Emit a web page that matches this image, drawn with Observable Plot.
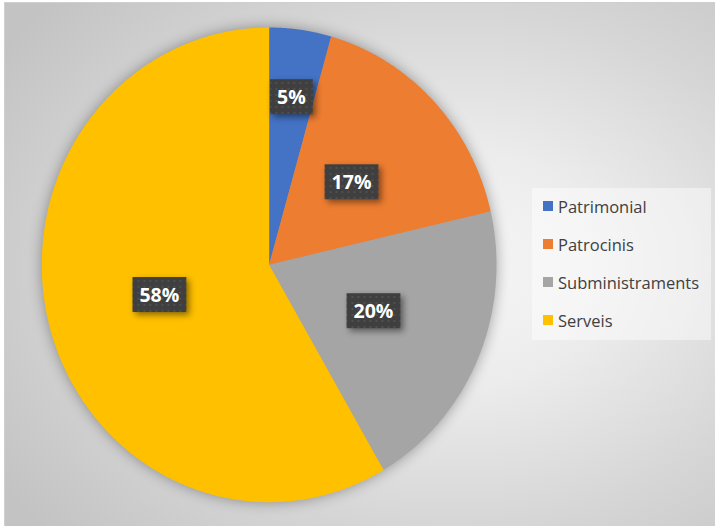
<!DOCTYPE html>
<html>
<head>
<meta charset="utf-8">
<script src="https://cdn.jsdelivr.net/npm/d3@7"></script>
<script src="https://cdn.jsdelivr.net/npm/@observablehq/plot@0.6"></script>
<style>
  html, body { margin: 0; padding: 0; background: #ffffff; }
  #wrap { position: relative; width: 715px; height: 526px; overflow: hidden; }
  #bg {
    position: absolute; left: 4px; top: 2px; width: 720px; height: 530px;
    border-left: 1px solid #cfcfcf; border-top: 1px solid #cfcfcf;
    background: radial-gradient(ellipse 75% 75% at 62% 50%, #f7f7f7 0%, #ececec 30%, #d6d6d6 65%, #c3c3c3 100%);
  }
  #chart { position: absolute; left: 0; top: 0; }
  #legend {
    position: absolute; left: 532px; top: 188px; width: 179px; height: 152px;
    background: rgba(255,255,255,0.45);
    font-family: "Open Sans", sans-serif; font-size: 16.5px; color: #404040;
  }
  .item { position: absolute; left: 11px; height: 20px; display: flex; align-items: center; white-space: nowrap; }
  .sw { width: 10px; height: 10px; margin-right: 5px; }
</style>
</head>
<body>
<div id="wrap">
  <div id="bg"></div>
  <div id="chart"></div>
  <div id="legend"></div>
</div>
<script>
const categories = ["Patrimonial", "Patrocinis", "Subministraments", "Serveis"];
const values = [4.4, 17.0, 20.2, 58.4];
const labels = ["5%", "17%", "20%", "58%"];
const colors = ["#4472C4", "#ED7D31", "#A5A5A5", "#FFC000"];

const total = d3.sum(values);
const pts = [];
const labelData = [];
let acc = 0;
categories.forEach((c, i) => {
  const a0 = acc / total * 2 * Math.PI;
  acc += values[i];
  const a1 = acc / total * 2 * Math.PI;
  pts.push({cat: c, x: 0, y: 0});
  const n = Math.max(4, Math.ceil((a1 - a0) / (Math.PI / 360)));
  for (let k = 0; k <= n; k++) {
    const a = a0 + (a1 - a0) * k / n;
    pts.push({cat: c, x: Math.sin(a), y: Math.cos(a)});
  }
  const am = (a0 + a1) / 2;
  const r = values[i] < 10 ? 0.71 : 0.5;
  labelData.push({cat: c, label: labels[i], x: r * Math.sin(am), y: r * Math.cos(am)});
});

const plot = Plot.plot({
  width: 715,
  height: 526,
  margin: 0,
  style: {background: "transparent", overflow: "visible"},
  x: {domain: [-1, 1], range: [41.3, 496], axis: null},
  y: {domain: [-1, 1], range: [501.7, 27], axis: null},
  color: {domain: categories, range: colors},
  marks: [
    Plot.line(pts, {x: "x", y: "y", z: "cat", fill: "cat", stroke: null, className: "pie"}),
    Plot.text(labelData, {x: "x", y: "y", text: "label", fill: "white", fontWeight: "bold",
      fontSize: 19.5, fontFamily: "Open Sans, sans-serif", className: "lbl"})
  ]
});
document.getElementById("chart").appendChild(plot);

const svg = d3.select(plot);
const defs = svg.insert("defs", ":first-child");
const pat = defs.append("pattern").attr("id", "dots").attr("width", 6).attr("height", 6)
  .attr("patternUnits", "userSpaceOnUse");
pat.append("rect").attr("width", 6).attr("height", 6).attr("fill", "#3f3f3f");
pat.append("circle").attr("cx", 3).attr("cy", 3).attr("r", 1.1).attr("fill", "#535353");

svg.selectAll("g.pie").style("filter", "drop-shadow(0px 0px 7px rgba(0,0,0,0.35))");

svg.selectAll("g.lbl text").each(function() {
  const b = this.getBBox();
  const padX = 7;
  const h = 35;
  const cy = b.y + b.height / 2;
  const tr = this.getAttribute("transform");
  const r = d3.select(this.parentNode).insert("rect", () => this)
    .attr("x", b.x - padX).attr("y", cy - h / 2)
    .attr("width", b.width + 2 * padX).attr("height", h)
    .attr("fill", "url(#dots)")
    .style("filter", "drop-shadow(3px 3px 3px rgba(0,0,0,0.45))");
  if (tr) r.attr("transform", tr);
});
</script>
<script>
const legend = d3.select("#legend");
categories.forEach((c, i) => {
  const it = legend.append("div").attr("class", "item").style("top", (8 + i * 38) + "px");
  it.append("div").attr("class", "sw").style("background", colors[i]);
  it.append("span").text(c);
});
</script>
</body>
</html>
